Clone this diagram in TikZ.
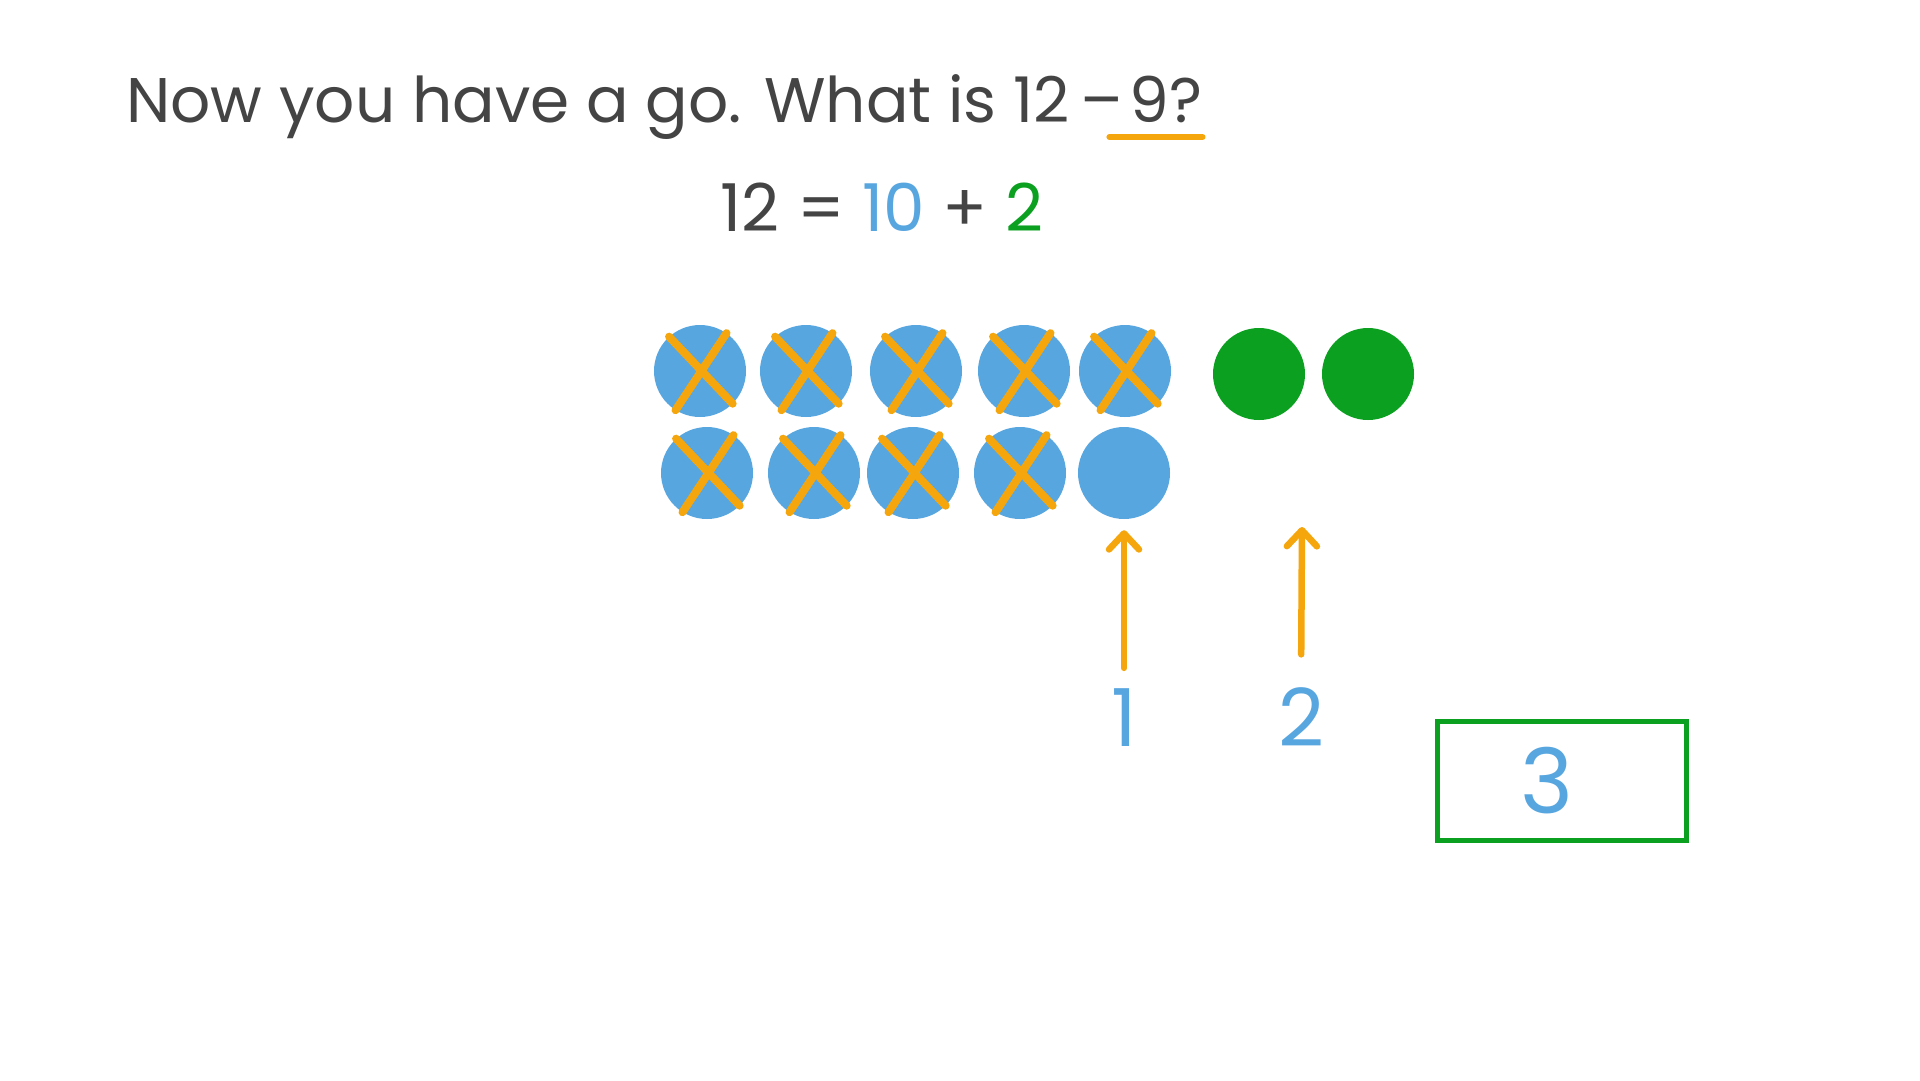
\documentclass[tikz,border=0pt]{standalone}
\usepackage{fontspec}
\setmainfont{Poppins}
\usetikzlibrary{arrows.meta,positioning}
\definecolor{inkgray}{HTML}{444444}
\definecolor{dotblue}{HTML}{58A6E0}
\definecolor{crossorange}{HTML}{F5A60C}
\definecolor{dotgreen}{HTML}{0BA020}
\tikzset{
  dot/.style={circle, minimum size=92pt, inner sep=0pt, fill=dotblue},
  gdot/.style={dot, fill=dotgreen},
  cross/.style={crossorange, line width=8pt, line cap=round},
  pointer/.style={crossorange, line width=6.5pt, line cap=round, -{Straight Barb[length=16pt,width=30pt,round]}},
  numlabel/.style={text=dotblue, inner sep=0pt, font=\fontsize{80}{80}\selectfont},
  bigtext/.style={text=inkgray, inner sep=0pt, font=\fontsize{63}{63}\selectfont},
}
\begin{document}
\begin{tikzpicture}[x=1pt, y=-1pt]
  \fill[white] (0,0) rectangle (1920,1080);
  \useasboundingbox (0,0) rectangle (1920,1080);
  % question
  \node[bigtext, anchor=base west] (title) at (126,122) {Now you have a go. What is 12\,–};
  \node[bigtext, anchor=base west] (nine) at ([xshift=6pt]title.base east) {9?};
  \draw[crossorange, line width=6pt, line cap=round] ([xshift=-20pt, yshift=-15pt]nine.base west) -- ([yshift=-15pt]nine.base east);
  \node[bigtext, font=\fontsize{66}{66}\selectfont] (split) at (882,207) {12 = \textcolor{dotblue}{10} + \textcolor{dotgreen}{2}};
  % ten frame
  \foreach \x [count=\i] in {700,806,916,1024,1125}
    \node[dot] (t\i) at (\x,371) {};
  \foreach \x [count=\i] in {707,814,913,1020,1124}
    \node[dot] (b\i) at (\x,473) {};
  \node[gdot] (g1) at (1259,374) {};
  \node[gdot] (g2) at (1368,374) {};
  \foreach \i in {1,...,5}
    \draw[cross] (t\i.132) -- (t\i.-45) (t\i.55) -- (t\i.-122);
  \foreach \i in {1,...,4}
    \draw[cross] (b\i.132) -- (b\i.-45) (b\i.55) -- (b\i.-122);
  % counting on
  \node[numlabel] (one) at (1124,718) {1};
  \node[numlabel] (two) at (1301,717) {2};
  \coordinate (gap) at (1302,527);
  \draw[pointer, shorten <=21pt, shorten >=11pt] (one.north) -- (b5.south);
  \draw[pointer, shorten <=33pt] (two.north) -- (gap);
  \node[draw=dotgreen, line width=5pt, minimum width=249pt, minimum height=119pt,
        text=dotblue, font=\fontsize{90}{90}\selectfont] (answer) at (1562,781) {3\hspace*{30pt}};
\end{tikzpicture}
\end{document}
